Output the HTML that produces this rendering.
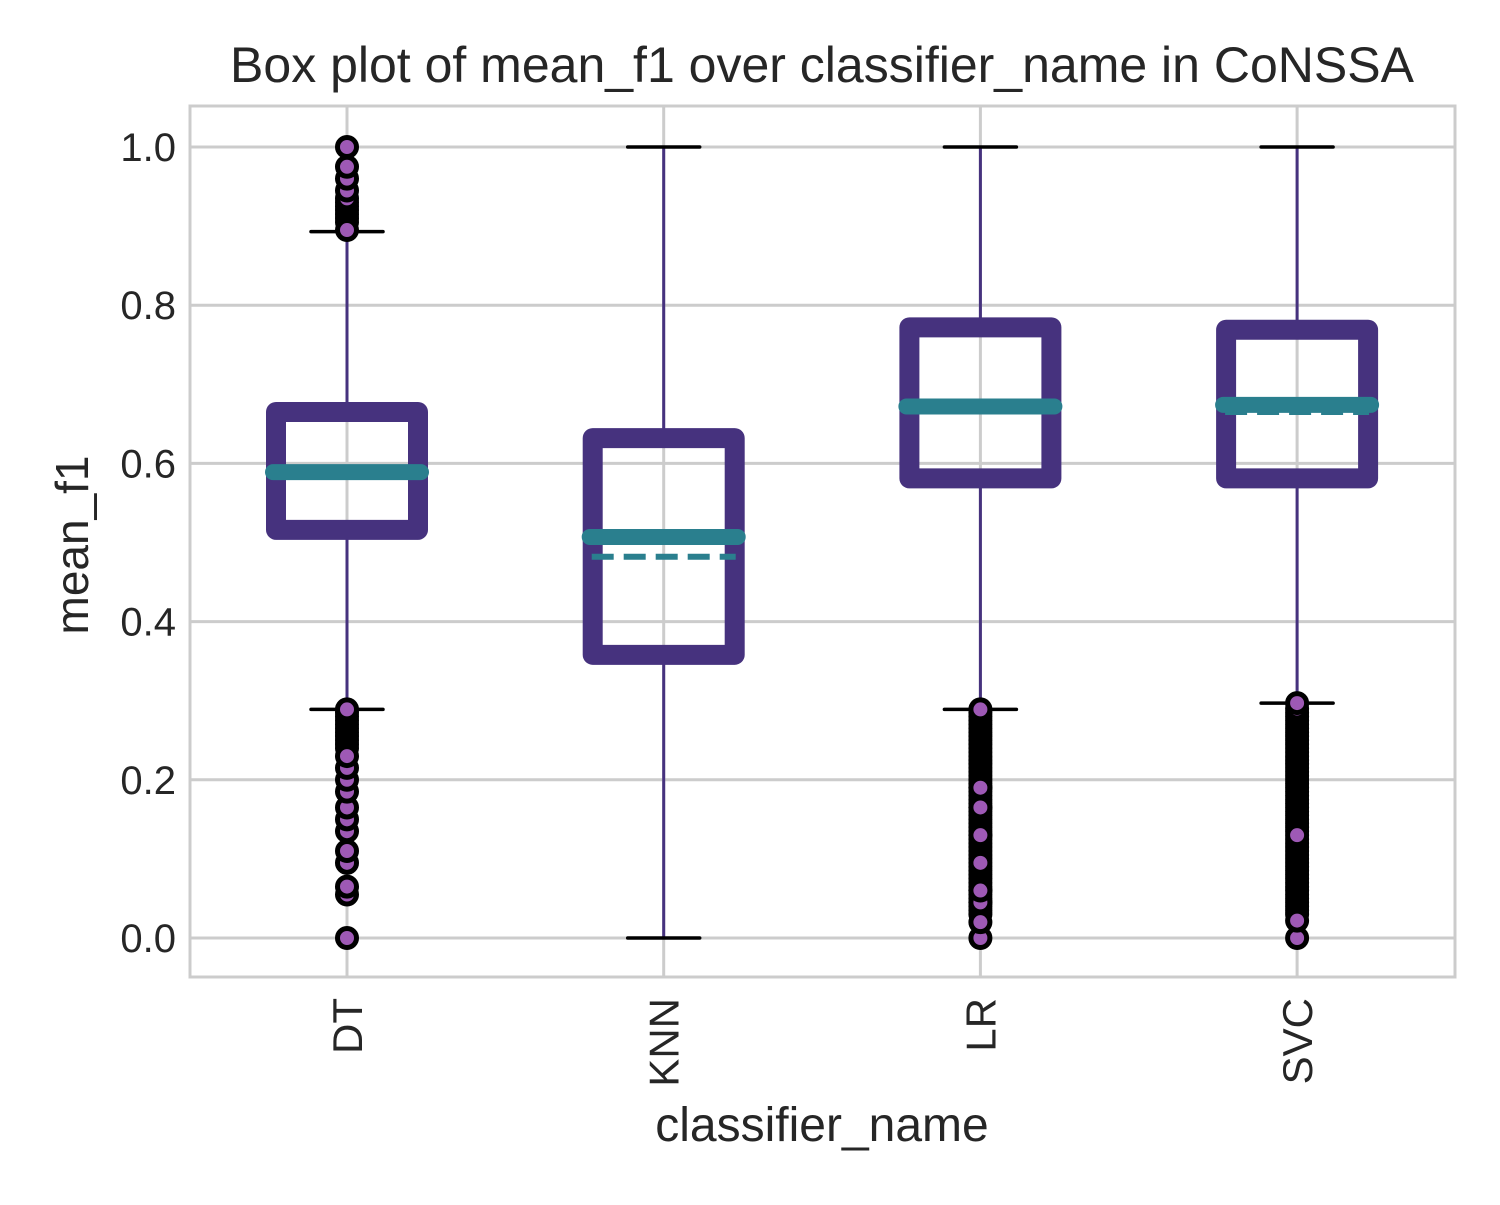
<!DOCTYPE html>
<html><head><meta charset="utf-8"><style>
body{margin:0;background:#fff;}
svg text{font-family:"Liberation Sans",sans-serif;fill:#262626;}
</style></head><body>
<svg id="chart" width="1500" height="1200" xmlns="http://www.w3.org/2000/svg">
<rect x="190" y="106" width="1265" height="871" fill="#fff" stroke="#cccccc" stroke-width="3"/>
<g id="grid"></g>
<g id="marks"></g>
<g id="ticks"></g>
<text x="822" y="82" font-size="50" text-anchor="middle">Box plot of mean_f1 over classifier_name in CoNSSA</text>
<text x="88" y="545" font-size="46" text-anchor="middle" transform="rotate(-90 88 545)">mean_f1</text>
<text x="822" y="1141" font-size="48" text-anchor="middle">classifier_name</text>
</svg>
<script>
const categories = ["DT","KNN","LR","SVC"];
const q1 = [0.516,0.358,0.581,0.581];
const q3 = [0.665,0.632,0.772,0.769];
const medians = [0.589,0.507,0.672,0.674];
const means = [0.589,0.482,0.672,0.665];
const whiskLow = [0.289,0.0,0.289,0.297];
const whiskHigh = [0.893,1.0,1.0,1.0];
const denseOutliers = [
 [0.24,0.245,0.25,0.255,0.26,0.265,0.27,0.275,0.28,0.285,0.289,0.905,0.91,0.915,0.92,0.925,0.93,0.935],
 [],
 [0.03,0.035,0.04,0.045,0.05,0.055,0.06,0.065,0.07,0.075,0.08,0.085,0.09,0.1,0.105,0.11,0.115,0.12,0.125,0.13,0.135,0.14,0.145,0.15,0.155,0.16,0.165,0.17,0.175,0.18,0.185,0.19,0.195,0.2,0.205,0.21,0.215,0.22,0.225,0.23,0.235,0.24,0.245,0.25,0.255,0.26,0.265,0.27,0.275,0.28,0.285,0.289],
 [0.03,0.035,0.04,0.045,0.05,0.055,0.06,0.065,0.07,0.075,0.08,0.085,0.09,0.095,0.1,0.105,0.11,0.115,0.12,0.125,0.135,0.14,0.145,0.15,0.155,0.16,0.165,0.17,0.175,0.18,0.185,0.19,0.195,0.2,0.205,0.21,0.215,0.22,0.225,0.23,0.235,0.24,0.245,0.25,0.255,0.26,0.265,0.27,0.275,0.28,0.285,0.29,0.297]
];
const outliers = [
 [0.0,0.055,0.065,0.095,0.11,0.135,0.15,0.165,0.185,0.2,0.215,0.23,0.895,0.945,0.96,0.975,1.0],
 [],
 [0.0,0.02,0.045,0.06,0.095,0.13,0.165,0.19],
 [0.0,0.022,0.13]
];
const yTicks = [0.0,0.2,0.4,0.6,0.8,1.0];
const yTickLabels = ["0.0","0.2","0.4","0.6","0.8","1.0"];

const NS="http://www.w3.org/2000/svg";
const yScale = v => 938 - v*791;
const xScale = i => 347 + i*316.7;
function mk(tag, attrs, parent){const e=document.createElementNS(NS,tag);for(const k in attrs)e.setAttribute(k,attrs[k]);parent.appendChild(e);return e;}
const grid=document.getElementById('grid'), marks=document.getElementById('marks'), ticks=document.getElementById('ticks');
yTicks.forEach((t,i)=>{
  const l=mk('line',{x1:190,x2:1455,y1:yScale(t),y2:yScale(t),stroke:'#cccccc','stroke-width':3},grid);
  
  
  const tx=mk('text',{x:176,y:yScale(t)+14,'font-size':40,'text-anchor':'end'},ticks);
  tx.textContent=yTickLabels[i];
  
  
});
categories.forEach((c,i)=>{
  const x=xScale(i);
  const l=mk('line',{x1:x,x2:x,y1:106,y2:977,stroke:'#cccccc','stroke-width':3},grid);
  
  
  const tx=mk('text',{x:x+15,y:998,'font-size':42,'text-anchor':'end',transform:`rotate(-90 ${x+15} 998)`},ticks);
  tx.textContent=c;
  
  
  const g=mk('g',{},marks);
  
  
  mk('line',{x1:x,x2:x,y1:yScale(q3[i]),y2:yScale(whiskHigh[i]),stroke:'#46327e','stroke-width':3},g);
  mk('line',{x1:x,x2:x,y1:yScale(q1[i]),y2:yScale(whiskLow[i]),stroke:'#46327e','stroke-width':3},g);
  mk('line',{x1:x-36,x2:x+36,y1:yScale(whiskHigh[i]),y2:yScale(whiskHigh[i]),stroke:'#000','stroke-width':3.5,'stroke-linecap':'round'},g);
  mk('line',{x1:x-36,x2:x+36,y1:yScale(whiskLow[i]),y2:yScale(whiskLow[i]),stroke:'#000','stroke-width':3.5,'stroke-linecap':'round'},g);
  denseOutliers[i].concat(outliers[i]).forEach(v=>{
    const p=mk('circle',{cx:x,cy:yScale(v),r:9.5,fill:'#9e59b5',stroke:'#000','stroke-width':5},g);
    
    
  });
  mk('rect',{x:x-71,y:yScale(q3[i]),width:142,height:yScale(q1[i])-yScale(q3[i]),fill:'none',stroke:'#46327e','stroke-width':20,'stroke-linejoin':'round'},g);
  mk('line',{x1:x-72,x2:x+72,y1:yScale(means[i]),y2:yScale(means[i]),stroke:'#2a7f8e','stroke-width':6,'stroke-dasharray':'22 10'},g);
  mk('line',{x1:x-74,x2:x+74,y1:yScale(medians[i]),y2:yScale(medians[i]),stroke:'#2a7f8e','stroke-width':16,'stroke-linecap':'round'},g);
});
</script>
</body></html>
